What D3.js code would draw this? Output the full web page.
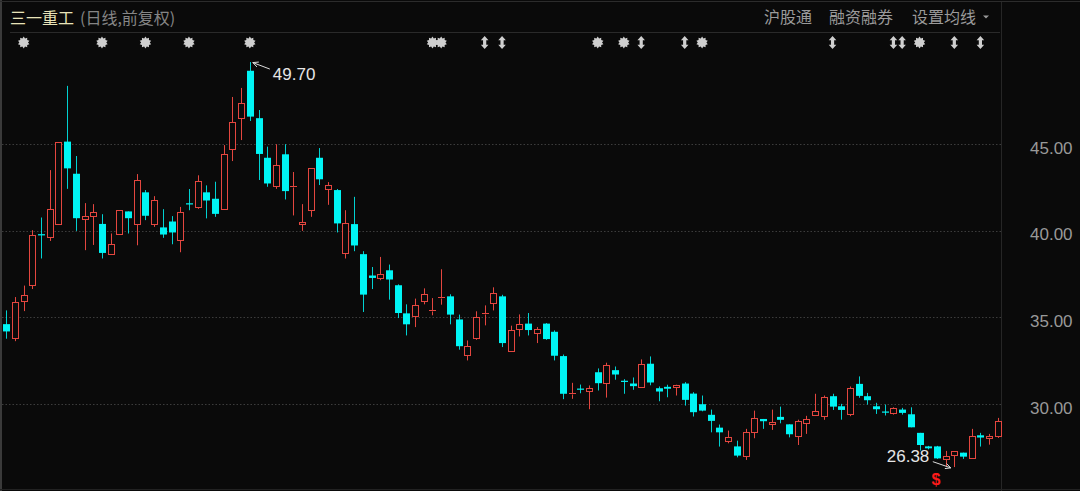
<!DOCTYPE html>
<html><head><meta charset="utf-8">
<script src="https://cdn.jsdelivr.net/npm/d3@7/dist/d3.min.js"></script>
<style>html,body{margin:0;padding:0;background:#0a0a0a;overflow:hidden}</style>
</head><body>
<script>
// ---- data ----
const titleName = "三一重工";
const titleNote = "(日线,前复权)";
const headerLinks = ["沪股通", "融资融券", "设置均线"];
const yTicks = [30, 35, 40, 45];

const openVals = [34.61,33.83,35.94,36.86,39.79,39.63,40.35,45.12,43.27,40.65,
 40.81,40.38,38.65,39.79,41.10,40.35,42.20,40.35,40.18,40.52,
 39.44,41.57,41.36,42.20,41.83,41.25,44.68,46.47,49.20,46.47,
 44.19,42.56,44.39,42.54,40.37,41.19,44.19,42.39,42.33,38.71,
 40.37,38.64,37.41,37.27,37.71,36.85,35.23,35.06,35.94,35.38,
 36.12,36.21,34.88,32.85,33.83,35.20,35.83,36.21,33.06,34.33,
 34.64,34.08,34.64,34.17,32.77,30.63,30.90,30.75,31.84,31.21,
 31.96,31.35,31.19,30.98,32.33,30.92,31.00,30.98,31.19,30.61,
 30.00,29.39,28.65,27.89,27.57,27.00,28.42,29.15,28.87,29.27,
 28.84,28.17,28.90,29.40,29.31,30.46,29.88,29.46,31.17,30.46,
 29.88,29.58,29.48,29.69,29.42,28.35,27.57,27.57,26.82,27.08,
 27.21,26.90,28.21,28.04,28.15];
const highVals = [35.40,36.17,36.83,40.02,40.75,43.48,45.14,48.33,44.29,41.58,
 41.52,40.94,39.83,41.19,41.10,43.25,42.33,41.98,41.23,40.83,
 41.36,42.39,43.18,42.60,42.81,44.92,47.69,48.21,49.70,46.94,
 44.83,44.97,44.97,43.37,41.52,43.62,44.75,42.79,42.39,41.17,
 41.94,38.81,37.90,38.48,38.04,36.90,35.75,36.08,36.67,36.11,
 37.77,36.33,35.16,33.67,35.35,35.69,36.73,36.30,34.52,35.17,
 35.25,34.44,34.67,34.25,32.86,31.23,31.13,31.08,32.06,32.39,
 32.17,31.44,31.54,32.58,32.75,31.02,31.12,31.12,31.27,30.69,
 30.50,29.69,28.83,28.48,27.90,28.58,29.63,29.15,29.69,29.86,
 28.84,29.11,29.33,30.60,30.50,30.60,30.02,31.02,31.60,30.65,
 30.08,29.98,29.82,29.79,29.82,28.35,27.60,27.60,27.31,27.31,
 27.21,28.58,28.35,28.29,29.21];
const lowVals = [33.77,33.63,35.36,36.63,38.39,39.40,40.33,42.40,39.98,38.87,
 39.17,38.39,38.65,39.79,39.83,39.15,40.60,40.21,39.58,39.21,
 38.75,41.17,41.25,40.70,40.79,41.25,44.00,45.21,46.31,42.91,
 42.52,42.40,41.79,40.87,39.98,40.79,42.62,41.48,39.89,38.39,
 38.81,35.31,36.63,37.14,36.02,34.96,33.96,34.44,35.75,35.12,
 35.73,34.60,33.14,32.52,33.71,34.54,35.40,33.29,33.06,33.90,
 33.96,33.52,33.71,32.52,30.29,30.31,30.63,29.71,30.79,30.38,
 31.41,30.60,30.83,30.98,31.09,30.17,30.40,30.50,29.92,29.29,
 29.59,28.38,27.56,27.75,26.94,26.79,28.04,28.58,28.52,28.90,
 28.09,27.65,28.29,29.40,29.10,29.67,29.11,29.31,30.37,29.98,
 29.44,29.35,29.40,29.40,28.67,27.33,27.40,26.85,26.40,26.38,
 26.85,26.90,27.56,27.67,28.06];
const closeVals = [34.19,35.91,36.31,39.77,39.75,41.25,45.12,43.58,40.71,40.85,
 41.04,38.71,39.25,41.19,40.71,42.89,40.85,41.75,39.77,39.89,
 41.08,41.52,42.83,41.73,40.96,44.39,46.23,47.33,46.56,44.41,
 42.71,43.77,42.27,42.56,40.48,43.62,42.95,42.63,40.41,40.46,
 39.14,36.31,37.27,37.48,37.18,35.25,34.60,35.69,36.37,35.42,
 36.15,35.16,33.34,33.34,35.04,35.23,36.42,33.52,34.27,34.64,
 34.27,34.31,33.75,32.79,30.60,30.66,30.86,30.96,31.21,32.27,
 31.71,31.32,31.04,32.31,31.25,30.73,30.89,31.08,30.25,29.54,
 29.63,29.04,28.38,28.09,27.04,28.40,29.21,29.02,29.00,29.10,
 28.27,29.06,29.15,29.62,30.42,29.86,29.67,30.96,30.48,30.23,
 29.71,29.52,29.79,29.50,28.67,27.65,27.46,26.88,27.02,27.31,
 26.98,28.19,28.08,28.15,29.06];
const dayIndex = openVals.map((d, i) => i);

const starDays = [2, 11, 16, 21, 28, 49, 50, 68, 71, 80, 105];
const arrowDays = [55, 57, 73, 78, 95, 102, 103, 109, 112];
const maxLabel = {day: 28, text: "49.70"};
const minLabel = {day: 109, text: "26.38"};
const signalDay = 107;

// ---- drawing ----
const W = 1080, H = 491;
const RED = "#e4463f", CYAN = "#00f5f5";
const svg = d3.select("body").append("svg").attr("width", W).attr("height", H)
  .style("display", "block").style("background", "#0a0a0a");

const x = d3.scalePoint().domain(dayIndex).range([6.3, 997.8]);
const y = d3.scaleLinear().domain([30, 45]).range([404.2, 143.7]);

// frame lines
svg.append("rect").attr("x", 0).attr("y", 0).attr("width", 2).attr("height", H).attr("fill", "#3a3a3a");
svg.append("line").attr("x1", 0).attr("x2", W).attr("y1", 1.5).attr("y2", 1.5).attr("stroke", "#2c2c2c");
svg.append("line").attr("x1", 10).attr("x2", 1000).attr("y1", 32.5).attr("y2", 32.5).attr("stroke", "#2a2a2a");
svg.append("line").attr("x1", 1001.5).attr("x2", 1001.5).attr("y1", 2).attr("y2", H).attr("stroke", "#262626");
svg.append("line").attr("x1", 0).attr("x2", W).attr("y1", 489.5).attr("y2", 489.5).attr("stroke", "#222");

// header
const cjk = "'Noto Sans CJK SC', 'Noto Sans', sans-serif";
const title = svg.append("text").attr("x", 10).attr("y", 24).style("font-family", cjk).style("font-size", "16px");
title.append("tspan").attr("fill", "#e8e3b8").text(titleName);
title.append("tspan").attr("dx", 6).attr("fill", "#858585").text(titleNote);
const linkX = [764, 829, 912];
headerLinks.forEach((t, i) => {
  svg.append("text").attr("x", linkX[i]).attr("y", 23).attr("fill", "#9a9a9a")
    .style("font-family", cjk).style("font-size", "16px").text(t);
});
svg.append("path").attr("d", "M983,15.5 L989,15.5 L986,18.5 Z").attr("fill", "#9a9a9a");

// gridlines
svg.append("g").selectAll("line").data(yTicks).join("line")
  .attr("x1", 2).attr("x2", 1001).attr("y1", d => Math.round(y(d)) + 0.5).attr("y2", d => Math.round(y(d)) + 0.5)
  .attr("stroke", "#3c3c3c").attr("stroke-dasharray", "1.5,2");

// y axis on right
const axis = svg.append("g").attr("transform", "translate(1030,0)")
  .call(d3.axisRight(y).tickValues(yTicks).tickFormat(d3.format(".2f")).tickSize(0).tickPadding(0));
axis.select(".domain").remove();
axis.selectAll("text").attr("fill", "#999999").attr("dy", "0.55em")
  .style("font-family", "'Liberation Sans', Arial, sans-serif").style("font-size", "17px");

// candles
const candles = dayIndex.map(i => ({i, o: openVals[i], h: highVals[i], l: lowVals[i], c: closeVals[i]}));
const g = svg.append("g");
candles.forEach(d => {
  const cx = Math.round(x(d.i));
  const up = d.c >= d.o;
  const yT = y(Math.max(d.o, d.c)), yB = y(Math.min(d.o, d.c));
  const yH = y(d.h), yL = y(d.l);
  if (up) {
    const t = Math.round(yT) + 0.5, b = Math.max(Math.round(yB) + 0.5, t + 1);
    if (yT - yH > 0.5) g.append("line").attr("x1", cx + 0.5).attr("x2", cx + 0.5).attr("y1", yH).attr("y2", t).attr("stroke", RED);
    if (yL - yB > 0.5) g.append("line").attr("x1", cx + 0.5).attr("x2", cx + 0.5).attr("y1", b).attr("y2", yL).attr("stroke", RED);
    if (b - t < 2) {
      g.append("line").attr("x1", cx - 3).attr("x2", cx + 4).attr("y1", t).attr("y2", t).attr("stroke", RED);
    } else {
      g.append("rect").attr("x", cx - 2.5).attr("y", t).attr("width", 6).attr("height", b - t)
        .attr("fill", "#0a0a0a").attr("stroke", RED);
    }
  } else {
    g.append("line").attr("x1", cx + 0.5).attr("x2", cx + 0.5).attr("y1", yH).attr("y2", yL).attr("stroke", CYAN).attr("stroke-opacity", 0.85);
    const hgt = Math.max(yB - yT, 1.2);
    g.append("rect").attr("x", cx - 3).attr("y", yT).attr("width", 7).attr("height", hgt).attr("fill", CYAN);
  }
});

// event markers
function starPath(cx, cy) {
  const pts = [];
  for (let k = 0; k < 20; k++) {
    const a = Math.PI * 2 * k / 20;
    const r = k % 2 === 0 ? 6.0 : 4.3;
    pts.push([cx + r * Math.sin(a), cy - r * Math.cos(a)]);
  }
  return "M" + pts.map(p => p.join(",")).join("L") + "Z";
}
function arrowPath(cx, cy) {
  return `M${cx},${cy-6.5}L${cx+3.8},${cy-2.3}L${cx+1.6},${cy-2.3}L${cx+1.6},${cy+2.3}L${cx+3.8},${cy+2.3}L${cx},${cy+6.5}L${cx-3.8},${cy+2.3}L${cx-1.6},${cy+2.3}L${cx-1.6},${cy-2.3}L${cx-3.8},${cy-2.3}Z`;
}
svg.append("g").selectAll("path").data(starDays).join("path")
  .attr("d", d => starPath(x(d), 42.5)).attr("fill", "#cfcfcf");
svg.append("g").selectAll("path").data(arrowDays).join("path")
  .attr("d", d => arrowPath(x(d), 42.5)).attr("fill", "#cfcfcf");

// max / min labels
const numFont = "'Liberation Sans', Arial, sans-serif";
{
  const px = x(maxLabel.day), py = y(highVals[maxLabel.day]);
  const tx = px + 3, ty = py + 0.5, sx = px + 20, sy = py + 7;
  svg.append("line").attr("x1", sx).attr("y1", sy).attr("x2", tx).attr("y2", ty).attr("stroke", "#dcdcdc");
  const ang = Math.atan2(sy - ty, sx - tx);
  svg.append("path").attr("d", `M${tx + 6*Math.cos(ang-0.45)},${ty + 6*Math.sin(ang-0.45)}L${tx},${ty}L${tx + 6*Math.cos(ang+0.45)},${ty + 6*Math.sin(ang+0.45)}`)
    .attr("fill", "none").attr("stroke", "#dcdcdc");
  svg.append("text").attr("x", px + 23).attr("y", py + 18).attr("fill", "#e6e6e6")
    .style("font-family", numFont).style("font-size", "17px").text(maxLabel.text);
}
{
  const px = x(minLabel.day), py = y(lowVals[minLabel.day]);
  const tx = px - 3.5, ty = py + 0.8, sx = px - 21.5, sy = py - 5.4;
  svg.append("line").attr("x1", sx).attr("y1", sy).attr("x2", tx).attr("y2", ty).attr("stroke", "#dcdcdc");
  const ang = Math.atan2(sy - ty, sx - tx);
  svg.append("path").attr("d", `M${tx + 6*Math.cos(ang-0.45)},${ty + 6*Math.sin(ang-0.45)}L${tx},${ty}L${tx + 6*Math.cos(ang+0.45)},${ty + 6*Math.sin(ang+0.45)}`)
    .attr("fill", "none").attr("stroke", "#dcdcdc");
  svg.append("text").attr("x", px - 25).attr("y", py - 5).attr("text-anchor", "end").attr("fill", "#e6e6e6")
    .style("font-family", numFont).style("font-size", "17px").text(minLabel.text);
}
// signal marker
svg.append("text").attr("x", x(signalDay) - 1).attr("y", 485).attr("text-anchor", "middle")
  .attr("fill", "#ff1a1a").style("font-family", numFont).style("font-weight", "bold").style("font-size", "16px").text("$");
</script>
</body></html>
